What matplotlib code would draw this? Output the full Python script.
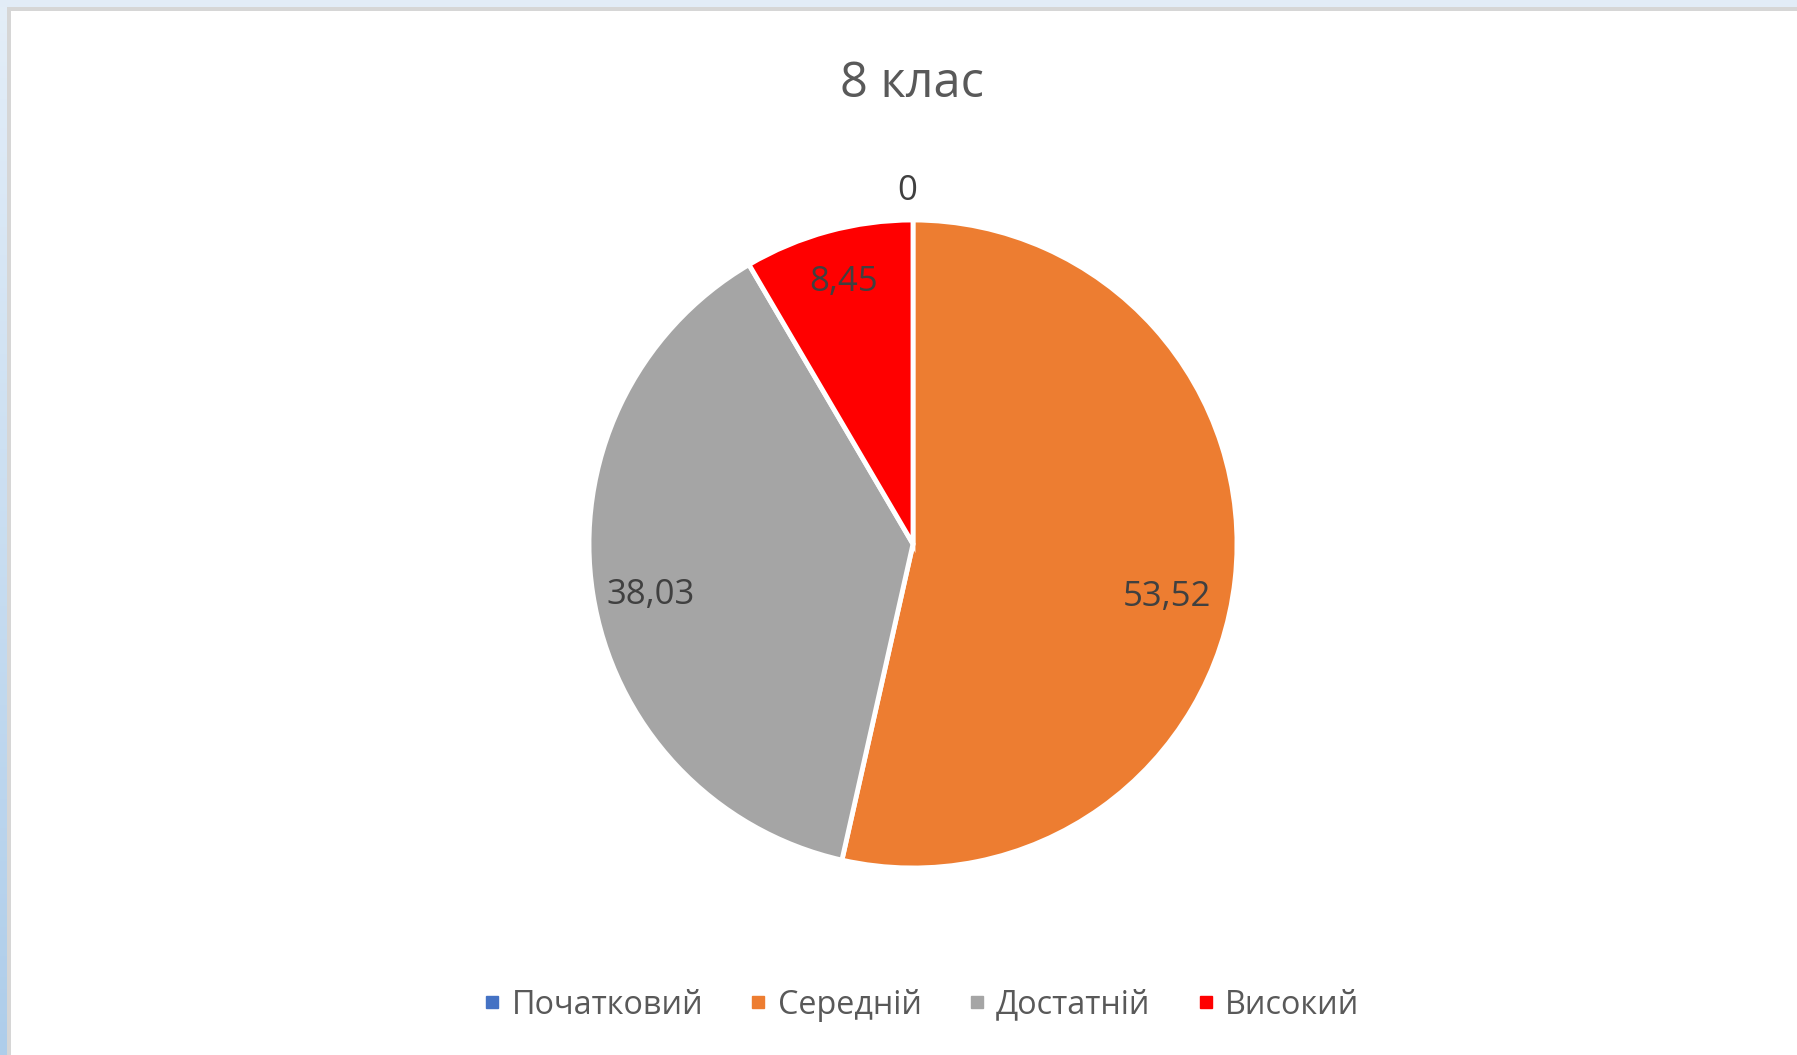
import numpy as np
import matplotlib
matplotlib.use("Agg")
import matplotlib.pyplot as plt
from matplotlib.lines import Line2D
from matplotlib.patches import Rectangle

categories = ["Початковий", "Середній", "Достатній", "Високий"]
values = [0, 53.52, 38.03, 8.45]
value_labels = ["0", "53,52", "38,03", "8,45"]
colors = ["#4472C4", "#ED7D31", "#A5A5A5", "#FF0000"]
title = "8 клас"

plt.rcParams['font.family'] = ['Open Sans', 'DejaVu Sans']

W, H = 1797, 1055
fig = plt.figure(figsize=(W / 100, H / 100), dpi=100)
fig.patch.set_facecolor("white")

# window frame: light blue strips on top and left, grey inner line
grad = fig.add_axes([0, 0, 7 / W, 1])
grad.imshow(np.linspace(0, 1, 256).reshape(-1, 1), aspect='auto',
            cmap=matplotlib.colors.LinearSegmentedColormap.from_list('g', ["#E4EEF8", "#AECDEA"]),
            extent=[0, 1, 0, 1], origin='upper')
grad.set_axis_off()
fig.patches.append(Rectangle((0, 1 - 7 / H), 1, 7 / H, transform=fig.transFigure,
                             facecolor="#E2ECF7", edgecolor='none', zorder=0))
fig.patches.append(Rectangle((7 / W, 1 - 11 / H), 1, 4 / H, transform=fig.transFigure,
                             facecolor="#D6D6D6", edgecolor='none', zorder=0))
fig.patches.append(Rectangle((7 / W, 0), 4 / W, 1 - 7 / H, transform=fig.transFigure,
                             facecolor="#D6D6D6", edgecolor='none', zorder=0))

cx, cy, r = 913, 544, 324
ax = fig.add_axes([(cx - r) / W, (H - cy - r) / H, 2 * r / W, 2 * r / H])
wedges, _ = ax.pie(values, colors=colors, startangle=90, counterclock=False,
                   wedgeprops=dict(edgecolor='white', linewidth=3.5))
ax.set_xlim(-1, 1)
ax.set_ylim(-1, 1)
ax.set_axis_off()

# label placement tweaks (pixels: right, down), mimicking Excel best-fit
label_shift = [(-6, 3), (-10, 24), (0, 10), (0, -6)]
for w, lab, v, (sx, sy) in zip(wedges, value_labels, values, label_shift):
    th = np.deg2rad((w.theta1 + w.theta2) / 2)
    d = 1.10 if v == 0 else 0.82
    ax.text(d * np.cos(th) + sx / r, d * np.sin(th) - sy / r, lab, ha='center', va='center',
            fontsize=25, color="#404040")

fig.text(912 / W, 1 - 84 / H, title, ha='center', va='center', fontsize=35, color="#595959")

handles = [Line2D([], [], marker='s', linestyle='none', markersize=8, color=c) for c in colors]
fig.legend(handles, categories, loc='center', bbox_to_anchor=(921 / W, 1 - 1005 / H), ncol=4,
           frameon=False, fontsize=23.3, labelcolor="#595959", handlelength=0.6,
           handletextpad=0.3, columnspacing=1.4)

fig.savefig("out.png", dpi=100, facecolor="white")
